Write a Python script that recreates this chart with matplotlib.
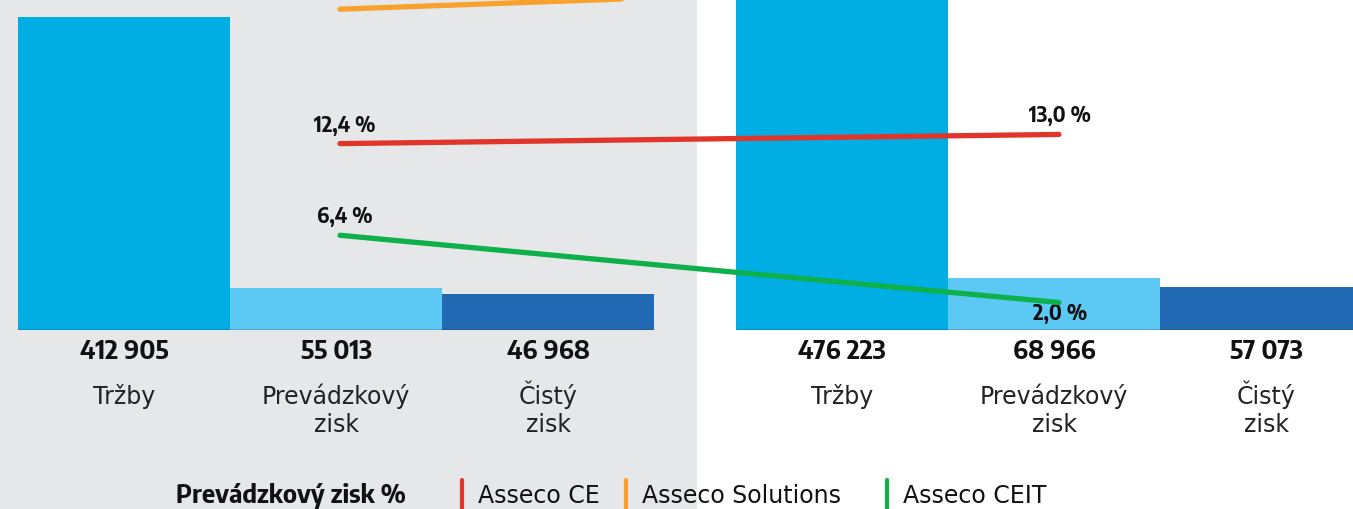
import numpy as np
import matplotlib.pyplot as plt
from matplotlib.patches import Rectangle
from matplotlib.lines import Line2D

plt.rcParams['font.family'] = ['DejaVu Sans']
BOLD = ['Encode Sans Semi Condensed', 'DejaVu Sans']

# data
categories = ['Tržby', 'Prevádzkový\nzisk', 'Čistý\nzisk']
values_2022 = [412905, 55013, 46968]
values_2023 = [476223, 68966, 57073]
bar_colors = ['#00AEE4', '#5CC9F5', '#2169B3']

series_names = ['Asseco CE', 'Asseco Solutions', 'Asseco CEIT']
series_colors = ['#E1352B', '#F9A12D', '#0DB04B']
margin_2022 = [12.4, 21.2, 6.4]
margin_2023 = [13.0, 22.9, 2.0]
show_label = [True, False, True]   # orange labels sit above the visible area
label_below = [False, False, True]

W, H = 1353, 509
fig = plt.figure(figsize=(W / 100, H / 100), dpi=100)

# grey background for the first period
fig.patches.append(Rectangle((0, 0), 697 / W, 1, transform=fig.transFigure,
                             facecolor='#E6E7E9', edgecolor='none', zorder=-10))

base_px = 330
ax = fig.add_axes([0, (H - base_px) / H, 1, base_px / H])
ax.set_facecolor('none')
bar_w_px = 212
x_left = np.arange(3)
x_right = x_left + 718 / bar_w_px
ax.set_xlim(-0.5 - 18 / bar_w_px, -0.5 + (W - 18) / bar_w_px)
ax.set_ylim(0, values_2022[0] * base_px / 313)
ax.axis('off')

def fmt(v):
    return f'{v:,}'.replace(',', ' ')

for xs, vals in [(x_left, values_2022), (x_right, values_2023)]:
    ax.bar(xs, vals, width=1.0, color=bar_colors, linewidth=0)
    ax.hlines(0, xs[0] - 0.5, xs[-1] + 0.5, color='#222222', lw=1, zorder=3)
    for x, v, c in zip(xs, vals, categories):
        ax.annotate(fmt(v), (x, 0), xytext=(0, -22), textcoords='offset pixels',
                    ha='center', va='center', fontsize=18.5, fontweight='bold',
                    family=BOLD, color='#111111', annotation_clip=False)
        # baseline of the last line, so that accents don't push lines down
        n_lines = c.count('\n') + 1
        ax.annotate(c, (x, 0), xytext=(0, -74 - 28 * (n_lines - 1)),
                    textcoords='offset pixels', ha='center', va='baseline',
                    fontsize=17, color='#222222', linespacing=1.2,
                    annotation_clip=False)

# margin lines
ax2 = ax.twinx()
ax2.set_ylim(0.2, 21.8)
ax2.axis('off')
x0, x1 = x_left[1] + 4 / bar_w_px, x_right[1] + 5 / bar_w_px
for col, a, b, show, below in zip(series_colors, margin_2022, margin_2023,
                                  show_label, label_below):
    ax2.plot([x0, x1], [a, b], color=col, lw=3.8, solid_capstyle='round',
             clip_on=False, zorder=4)
    if not show:
        continue
    ax2.annotate(f'{a:.1f} %'.replace('.', ','), (x0, a), xytext=(5, 18),
                 textcoords='offset pixels', ha='center', va='center',
                 fontsize=15, fontweight='bold', family=BOLD, color='#111111',
                 annotation_clip=False)
    ax2.annotate(f'{b:.1f} %'.replace('.', ','), (x1, b),
                 xytext=(1, -12 if below else 18), textcoords='offset pixels',
                 ha='center', va='center', fontsize=15, fontweight='bold',
                 family=BOLD, color='#111111', annotation_clip=False)

# legend row
ly = 1 - 496 / H
fig.text(176 / W, ly, 'Prevádzkový zisk %', ha='left', va='center',
         fontsize=18.5, fontweight='bold', family=BOLD, color='#111111')
marker_x = [462, 626, 887]
for mx, name, col in zip(marker_x, series_names, series_colors):
    fig.add_artist(Line2D([mx / W, mx / W], [ly - 14 / H, ly + 16 / H],
                          color=col, lw=3, solid_capstyle='round'))
    fig.text((mx + 16) / W, ly, name, ha='left', va='center', fontsize=17,
             color='#111111')

fig.savefig('out.png', dpi=100)
